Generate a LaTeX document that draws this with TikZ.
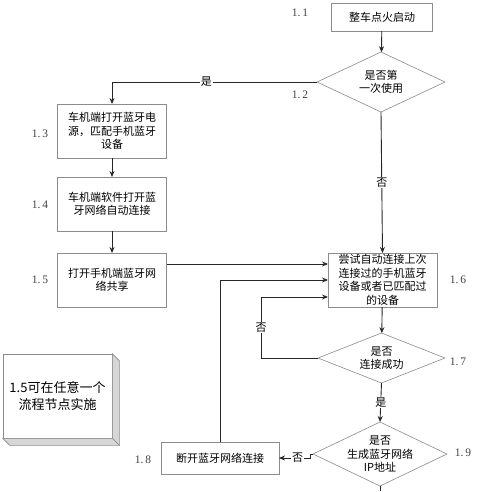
\documentclass[tikz,border=0pt]{standalone}
\usepackage{fontspec}
\setmainfont{Liberation Serif}
\newfontfamily\cjk{Noto Sans CJK SC}
\usetikzlibrary{shapes.geometric,arrows.meta}
\definecolor{boxgray}{HTML}{8C8C8C}
\definecolor{linegray}{HTML}{262626}
\definecolor{sidegray}{HTML}{D6D6D6}

\begin{document}
\begin{tikzpicture}[x=1pt,y=-1pt,
    box/.style={draw=boxgray, line width=0.6pt, fill=white, outer sep=0pt,
        minimum width=109pt, minimum height=54pt, inner sep=1pt, align=center,
        font=\cjk\fontsize{11}{13.5}\selectfont},
    decision/.style={diamond, draw=boxgray, line width=0.6pt, fill=white, outer sep=0pt,
        inner sep=-14pt, aspect=2, align=center, font=\cjk\fontsize{11}{13.5}\selectfont},
    arr/.style={draw=linegray, line width=0.9pt, -{Stealth[length=6pt,width=5pt]}},
    yesno/.style={fill=white, inner sep=1pt, font=\cjk\fontsize{11}{13}\selectfont},
    numlab/.style={font=\fontsize{11.5}{13}\selectfont, text=black!75}]
    \useasboundingbox (0,0) rectangle (500,491);

    % flow nodes
    \node[box, minimum width=101pt, minimum height=28pt] (start) at (382,17) {整车点火启动};
    \node[decision, minimum width=128pt, minimum height=60pt] (first) at (381,82) {是否第\\一次使用};
    \node[box] (pair) at (112,131) {车机端打开蓝牙电\\源，匹配手机蓝牙\\设备};
    \node[box] (autocon) at (112,204) {车机端软件打开蓝\\牙网络自动连接};
    \node[box] (share) at (112,280) {打开手机端蓝牙网\\络共享};
    \node[box] (retry) at (382.5,280) {尝试自动连接上次\\连接过的手机蓝牙\\设备或者已匹配过\\的设备};
    \node[decision, minimum width=127pt, minimum height=50pt] (ok) at (381.5,358) {是否\\连接成功};
    \node[decision, minimum width=134pt, minimum height=64pt] (ipaddr) at (380,454) {是否\\生成蓝牙网络\\IP地址};
    \node[box, minimum width=118pt, minimum height=32pt] (cut) at (220,458) {断开蓝牙网络连接};
    \coordinate (bottom) at (380,491);

    % step numbers
    \foreach \n/\x/\y in {1/300/13, 2/300/95, 3/40/134, 4/40/205, 5/40/280,
        6/458/280, 7/458/362, 8/143/460, 9/463/453}
        \node[numlab] (lab\n) at (\x,\y) {1.\,\n};

    % note box
    \node[draw=boxgray, line width=0.6pt, fill=white, minimum width=109pt, minimum height=84pt,
        align=center, font=\cjk\fontsize{13}{17}\selectfont] (note) at (57.5,396) {1.5可在任意一个\\流程节点实施};
    \filldraw[draw=boxgray, fill=sidegray, line width=0.6pt]
        (note.north east) -- ++(7,7) -- ([shift={(7,7)}]note.south east) -- (note.south east) -- cycle;
    \filldraw[draw=boxgray, fill=sidegray, line width=0.6pt]
        (note.south west) -- ++(7,7) -- ([shift={(7,7)}]note.south east) -- (note.south east) -- cycle;

    % connectors
    \draw[arr] (start) -- (first);
    \draw[arr] (first.west) -| node[yesno, pos=0.27] {是} (pair.north);
    \draw[arr] (first.south) -- node[yesno] {否} (retry.north);
    \draw[arr] (pair) -- (autocon);
    \draw[arr] (autocon) -- (share);
    \draw[arr] ([yshift=16pt]share.east) -- ([yshift=16pt]retry.west);
    \draw[arr] (cut.north) |- (retry.west);
    \draw[arr] (ok.west) -| node[yesno, pos=0.75] {否} ([xshift=-67pt,yshift=-17pt]retry.west)
        -- ([yshift=-17pt]retry.west);
    \draw[arr] (retry) -- (ok);
    \draw[arr] (ok.south) -- node[yesno] {是} (ipaddr.north);
    \draw[arr] (ipaddr.west) -- ++(-3,0) |- node[yesno, pos=0.7] {否} (cut.east);
    \draw[draw=linegray, line width=0.9pt] (ipaddr.south) -- (bottom);
\end{tikzpicture}
\end{document}
